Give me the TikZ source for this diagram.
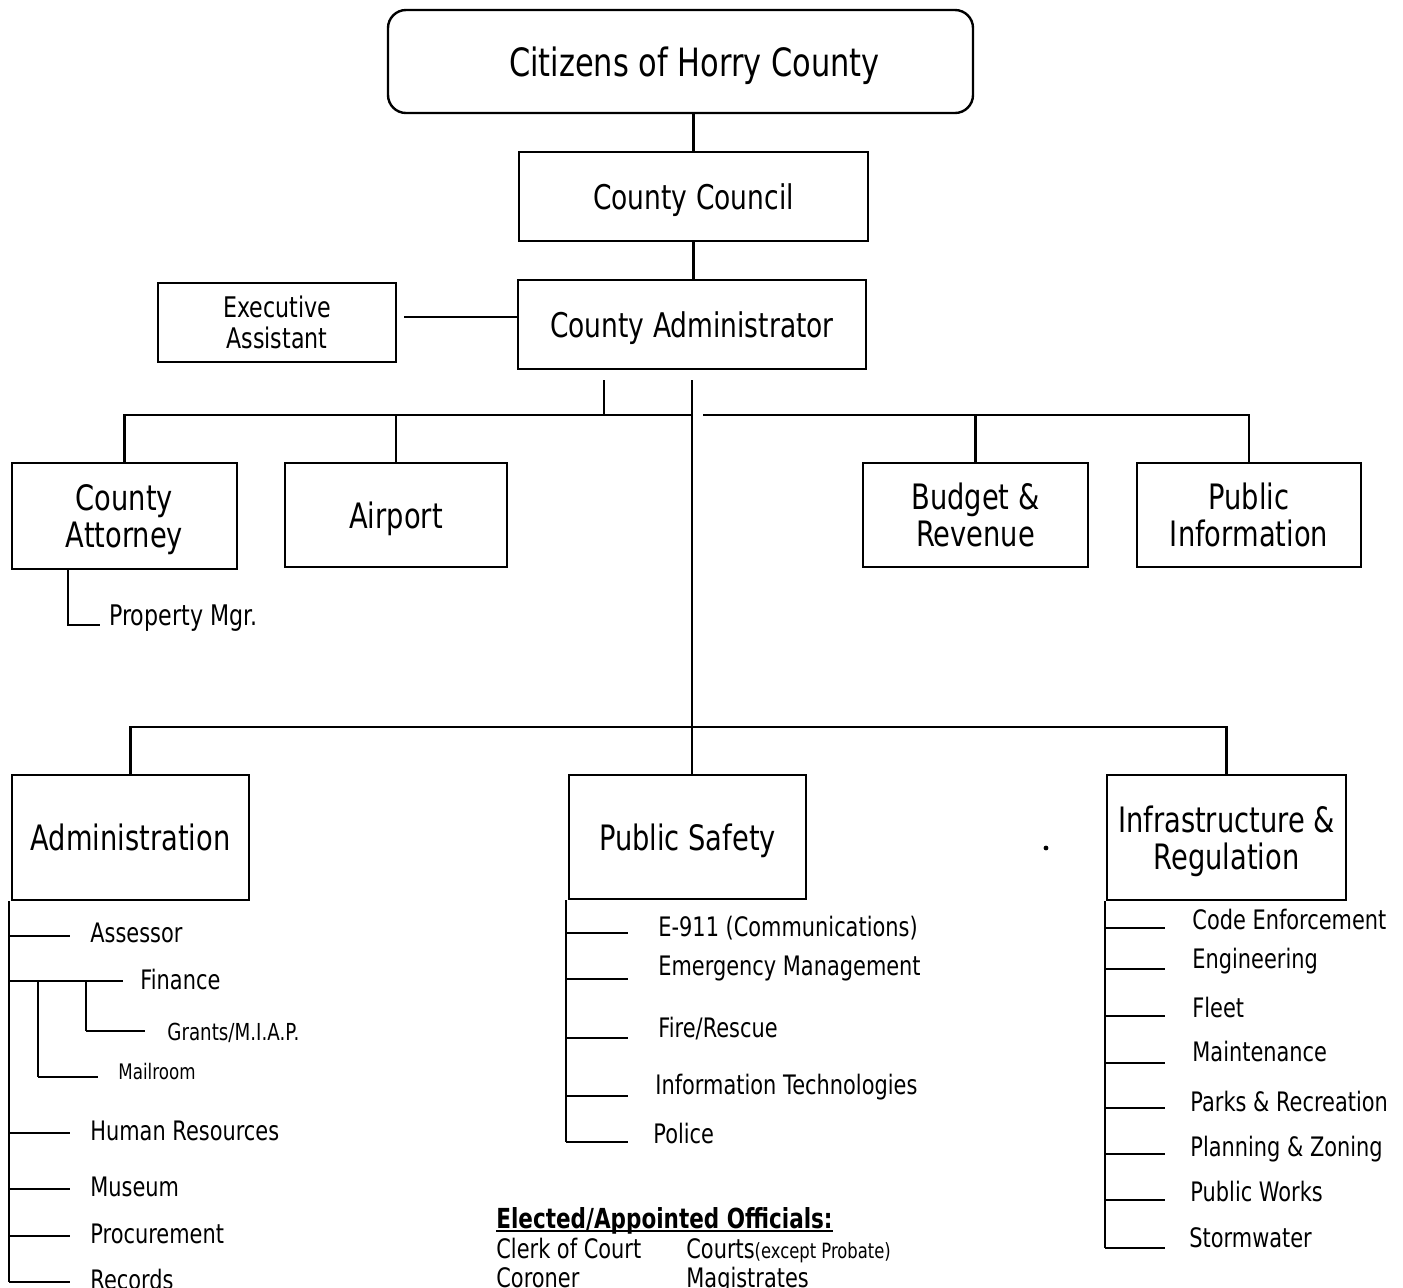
\documentclass[tikz,border=0pt]{standalone}
\usepackage{fontspec}
\setmainfont[FakeStretch=0.78]{DejaVu Sans}
\newcommand\mybranch[8]{%
  \node[#8] (#2) at (#3,#4) {#7};
  \coordinate (#2-e) at (#6,#5);
  \draw[conn] (#1 |- #2-e) -- (#2-e);}
\begin{document}
\begin{tikzpicture}[x=0.5pt,y=-0.5pt,
  box/.style={draw, line width=1.2pt, inner sep=0pt, align=center, text depth=0pt},
  conn/.style={line width=1.1pt},
  big/.style={font=\fontsize{17.5}{18.5}\selectfont},
  item/.style={anchor=base west, inner sep=0pt, font=\fontsize{13.4}{16}\selectfont},
  small/.style={anchor=base west, inner sep=0pt, font=\fontsize{10.7}{13}\selectfont}]
\useasboundingbox (0,0) rectangle (1403,1287);

% boxes
\node[box, rounded corners=9pt, minimum width=292.5pt, minimum height=51.5pt,
      font=\fontsize{19.5}{22}\selectfont] (cit) at (680.5,61.5) {\hspace*{14pt}Citizens of Horry County};
\node[box, minimum width=174.5pt, minimum height=44.5pt, font=\fontsize{17}{19}\selectfont] (cc) at (693.5,196.5) {County Council};
\node[box, minimum width=174pt, minimum height=44.5pt, font=\fontsize{17}{19}\selectfont] (ca) at (692,324.5) {County Administrator};
\node[box, minimum width=119pt, minimum height=39.5pt, font=\fontsize{14.2}{15.5}\selectfont] (ea) at (277,322.5) {Executive\\Assistant};
\node[box, big, minimum width=112.5pt, minimum height=53pt] (att) at (124.5,516) {County\\Attorney};
\node[box, big, minimum width=111pt, minimum height=52pt] (air) at (396,515) {Airport};
\node[box, big, minimum width=112.5pt, minimum height=52pt] (bud) at (975.5,515) {Budget \&\\Revenue};
\node[box, big, minimum width=112pt, minimum height=52pt] (pi) at (1249,515) {Public\\Information};
\node[box, big, minimum width=118.5pt, minimum height=62.5pt] (adm) at (130.5,837.5) {Administration};
\node[box, big, minimum width=118.5pt, minimum height=62pt] (ps) at (687.5,837) {Public Safety};
\node[box, big, minimum width=119.5pt, minimum height=62.5pt] (inf) at (1226.5,837.5) {Infrastructure \&\\Regulation};

% upper connectors
\draw[conn] (cc.north) -- (cc.north |- cit.south);
\draw[conn] (cc.south) -- (cc.south |- ca.north);
\draw[conn] ([xshift=3.5pt,yshift=2.75pt]ea.east) -- ([yshift=2.75pt]ea.east -| ca.west);

\coordinate (t1) at (604,380);
\coordinate (j1) at (604,415);
\coordinate (t2) at (692,380);
\coordinate (r1) at (703,415);
\coordinate (j2) at (692,727);
\draw[conn] (t1) -- (j1);
\draw[conn] (t2) -- (t2 |- ps.north);
\draw[conn] (att.north) -- (att.north |- j1) -- (t2 |- j1);
\draw[conn] (air.north) -- (air.north |- j1);
\draw[conn] (r1) -- (pi.north |- r1) -- (pi.north);
\draw[conn] (bud.north) -- (bud.north |- r1);
\draw[conn] (adm.north) -- (adm.north |- j2) -- (inf.north |- j2) -- (inf.north);

% Property Mgr.
\node[item, font=\fontsize{14.2}{16}\selectfont] (pm) at (109,625) {Property Mgr.};
\coordinate (pmc) at (68,625);
\draw[conn] (att.south -| pmc) -- (pmc) -- ([xshift=-4.5pt]pm.base west);

% Administration list
\coordinate (av) at (9,1282);
\draw[conn] (adm.south -| av) -- (av);
\mybranch{av}{asr}{90}{942}{936}{70}{Assessor}{item}
\mybranch{av}{fin}{140}{989}{981}{123}{Finance}{item}
\mybranch{av}{hr}{90}{1140}{1133}{70}{Human Resources}{item}
\mybranch{av}{mus}{90}{1196}{1189}{70}{Museum}{item}
\mybranch{av}{pro}{90}{1243}{1236}{70}{Procurement}{item}
\mybranch{av}{rec}{90}{1289}{1282}{70}{Records}{item}
\coordinate (gtop) at (86,981);
\coordinate (mtop) at (38,981);
\mybranch{gtop}{gra}{167}{1040}{1031}{145}{Grants/M.I.A.P.}{small, font=\fontsize{11.7}{13}\selectfont}
\draw[conn] (gtop) -- (gtop |- gra-e);
\mybranch{mtop}{mail}{118}{1079}{1077}{98}{Mailroom}{small}
\draw[conn] (mtop) -- (mtop |- mail-e);

% Public Safety list
\coordinate (pv) at (566,1142);
\draw[conn] (ps.south -| pv) -- (pv);
\mybranch{pv}{e911}{658}{936}{933}{628}{E-911 (Communications)}{item}
\mybranch{pv}{em}{658}{975}{979}{628}{Emergency Management}{item}
\mybranch{pv}{fr}{658}{1037}{1038}{628}{Fire/Rescue}{item}
\mybranch{pv}{it}{655}{1094}{1096}{628}{Information Technologies}{item}
\mybranch{pv}{pol}{653}{1143}{1142}{628}{Police}{item}

% Infrastructure list
\coordinate (iv) at (1105,1248);
\draw[conn] (inf.south -| iv) -- (iv);
\mybranch{iv}{ce}{1192}{929}{928}{1165}{Code Enforcement}{item}
\mybranch{iv}{eng}{1192}{968}{969}{1165}{Engineering}{item}
\mybranch{iv}{fl}{1192}{1017}{1016}{1165}{Fleet}{item}
\mybranch{iv}{mnt}{1192}{1061}{1063}{1165}{Maintenance}{item}
\mybranch{iv}{pr}{1190}{1111}{1108}{1165}{Parks \& Recreation}{item}
\mybranch{iv}{pz}{1190}{1156}{1154}{1165}{Planning \& Zoning}{item}
\mybranch{iv}{pw}{1190}{1201}{1200}{1165}{Public Works}{item}
\mybranch{iv}{sw}{1189}{1247}{1248}{1165}{Stormwater}{item}

% Elected / Appointed officials
\node[item, font=\fontsize{13.8}{16}\selectfont\bfseries] (eo) at (496,1228) {Elected/Appointed Officials:};
\draw[line width=0.9pt] ([yshift=-1.6pt]eo.base west) -- ([yshift=-1.6pt]eo.base east);
\node[item] (clk) at (496,1258) {Clerk of Court};
\node[item] (crt) at (686,1258) {Courts{\fontsize{10.5}{12}\selectfont(except Probate)}};
\node[item] (cor) at (496,1287) {Coroner};
\node[item] (mag) at (686,1287) {Magistrates};

% stray speck
\fill (1046,848) circle (1.2pt);
\end{tikzpicture}
\end{document}
